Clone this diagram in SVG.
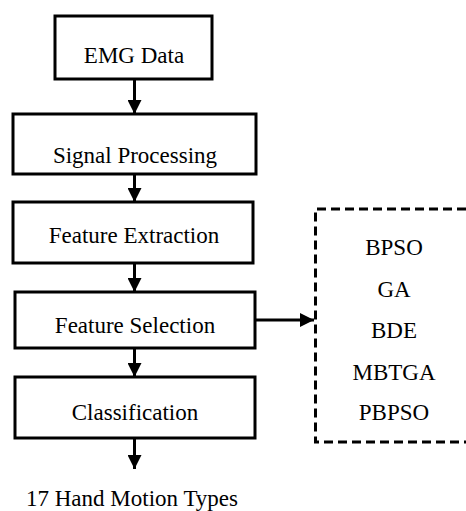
<svg xmlns="http://www.w3.org/2000/svg" width="466" height="511" viewBox="0 0 466 511">
<defs>
<style>
.box{fill:#fff;stroke:#000;stroke-width:3}
.dash{fill:none;stroke:#000;stroke-width:3;stroke-dasharray:9 5}
.t{font-family:"Times New Roman","Liberation Serif",Times,"Nimbus Roman","DejaVu Serif",serif;font-size:23px;fill:#000;text-anchor:middle}
.ln{stroke:#000;stroke-width:3;fill:none}
</style>
<marker id="ah" viewBox="0 0 14 14" refX="14" refY="7" markerWidth="14" markerHeight="14" markerUnits="userSpaceOnUse" orient="auto">
<path d="M0,0 L14,7 L0,14 Z" fill="#000"/>
</marker>
</defs>
<rect width="466" height="511" fill="#fff"/>
<g id="connectors">
<line class="ln" x1="134.5" y1="79" x2="134.5" y2="114" marker-end="url(#ah)"/>
<line class="ln" x1="134.5" y1="174" x2="134.5" y2="202" marker-end="url(#ah)"/>
<line class="ln" x1="134.5" y1="263" x2="134.5" y2="292" marker-end="url(#ah)"/>
<line class="ln" x1="134.5" y1="348" x2="134.5" y2="377" marker-end="url(#ah)"/>
<line class="ln" x1="134.5" y1="438" x2="134.5" y2="469" marker-end="url(#ah)"/>
<line class="ln" x1="255" y1="320" x2="314" y2="320" marker-end="url(#ah)"/>
</g>
<g id="emg"><rect class="box" x="55" y="16" width="157" height="63"/><text class="t" x="134" y="63">EMG Data</text></g>
<g id="signal"><rect class="box" x="13" y="114" width="243" height="60"/><text class="t" x="135" y="163">Signal Processing</text></g>
<g id="extraction"><rect class="box" x="13" y="202" width="240" height="61"/><text class="t" x="134" y="243">Feature Extraction</text></g>
<g id="selection"><rect class="box" x="15" y="292" width="240" height="56"/><text class="t" x="135" y="333">Feature Selection</text></g>
<g id="classification"><rect class="box" x="15" y="377" width="240" height="61"/><text class="t" x="135" y="420">Classification</text></g>
<g id="output"><text class="t" x="132" y="506">17 Hand Motion Types</text></g>
<g id="methods">
<path class="dash" d="M466,209 H315.5 V442 H466"/>
<text class="t" x="394" y="255">BPSO</text>
<text class="t" x="394" y="297">GA</text>
<text class="t" x="394" y="338">BDE</text>
<text class="t" x="394" y="380">MBTGA</text>
<text class="t" x="394" y="420">PBPSO</text>
</g>
</svg>
